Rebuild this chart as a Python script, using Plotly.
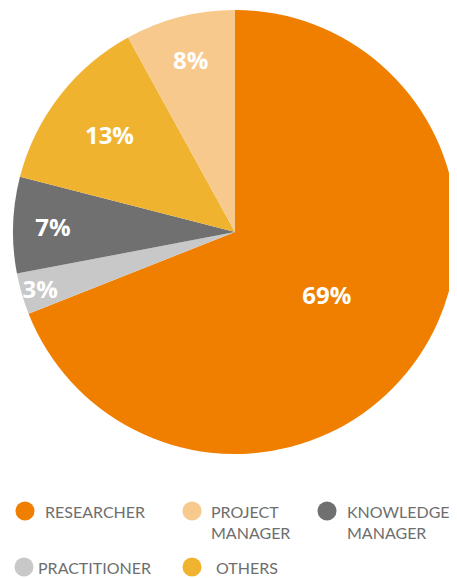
import plotly.graph_objects as go

# Data (clockwise from 12 o'clock)
labels = ["RESEARCHER", "PRACTITIONER", "KNOWLEDGE MANAGER", "OTHERS", "PROJECT MANAGER"]
values = [69, 3, 7, 13, 8]
colors = ["#F07F00", "#C8C8C8", "#707070", "#F0B330", "#F8C98C"]

# Legend (display order)
legend_labels = ["RESEARCHER", "PROJECT<br>MANAGER", "KNOWLEDGE<br>MANAGER", "PRACTITIONER", "OTHERS"]
legend_colors = ["#F07F00", "#F8C98C", "#707070", "#C8C8C8", "#F0B330"]

# page has an 8px body margin: figure occupies (8,8) .. (457,578)
OFF = 8
W, H = 457 - OFF, 578 - OFF


def px(x):
    return (x - OFF) / W


def py(y):
    return 1 - (y - OFF) / H


CX, CY, R = 235, 232, 222

fig = go.Figure()
fig.add_trace(go.Pie(
    labels=labels,
    values=values,
    sort=False,
    direction="clockwise",
    rotation=0,
    marker=dict(colors=colors, line=dict(width=0)),
    textinfo="percent",
    texttemplate="%{percent:.0%}",
    textposition="inside",
    insidetextorientation="horizontal",
    textfont=dict(family="Open Sans", size=24, color="white", weight="bold"),
    showlegend=False,
    hoverinfo="label+percent",
    domain=dict(x=[px(CX - R), px(CX + R)], y=[py(CY + R), py(CY - R)]),
))

# Custom legend layout
legend_pos = [  # (dot center x, dot center y, text x)
    (25, 511, 43),
    (192, 511, 209),
    (327, 511, 345),
    (24, 567, 36),
    (192, 567, 214),
]
shapes = []
annotations = []
r = 9.5
for (cx, cy, tx), lab, col in zip(legend_pos, legend_labels, legend_colors):
    shapes.append(dict(
        type="circle", xref="paper", yref="paper",
        x0=px(cx - r), x1=px(cx + r),
        y0=py(cy + r), y1=py(cy - r),
        fillcolor=col, line=dict(width=0),
    ))
    annotations.append(dict(
        x=px(tx), y=py(cy - 11), xref="paper", yref="paper",
        text=lab, showarrow=False, xanchor="left", yanchor="top", align="left",
        font=dict(family="Lato", size=16, color="#6E6E6E"),
    ))

fig.update_layout(
    width=W, height=H,
    margin=dict(l=0, r=0, t=0, b=0),
    paper_bgcolor="white",
    plot_bgcolor="white",
    shapes=shapes,
    annotations=annotations,
    uniformtext=dict(minsize=24, mode="show"),
)

fig.write_html("out.html")
